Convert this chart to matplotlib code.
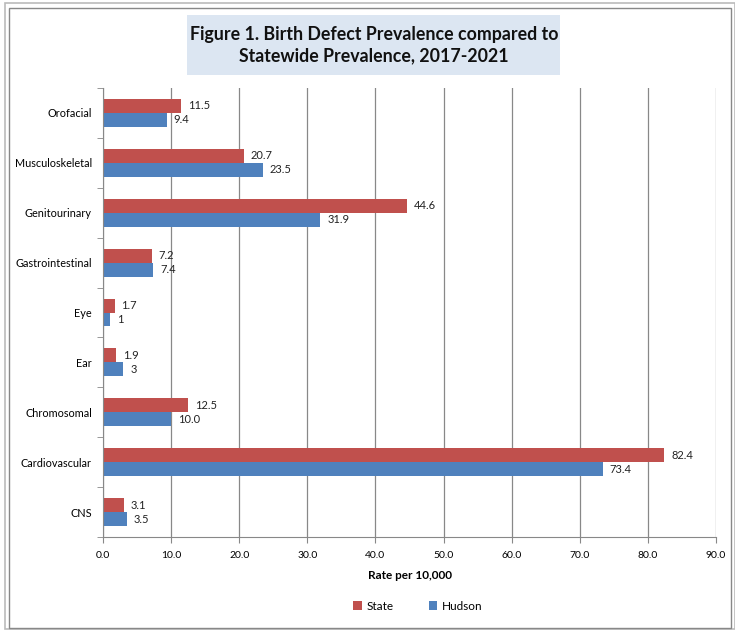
import matplotlib
matplotlib.use("Agg")
import matplotlib.pyplot as plt
import numpy as np
from matplotlib.patches import Rectangle

categories = ["Orofacial", "Musculoskeletal", "Genitourinary", "Gastrointestinal",
              "Eye", "Ear", "Chromosomal", "Cardiovascular", "CNS"]
state = [11.5, 20.7, 44.6, 7.2, 1.7, 1.9, 12.5, 82.4, 3.1]
hudson = [9.4, 23.5, 31.9, 7.4, 1.0, 3.0, 10.0, 73.4, 3.5]
state_labels = ["11.5", "20.7", "44.6", "7.2", "1.7", "1.9", "12.5", "82.4", "3.1"]
hudson_labels = ["9.4", "23.5", "31.9", "7.4", "1", "3", "10.0", "73.4", "3.5"]
xticks = [0, 10, 20, 30, 40, 50, 60, 70, 80, 90]

plt.rcParams['font.family'] = ['Lato', 'DejaVu Sans']

W, H = 735, 631
fig = plt.figure(figsize=(W / 100, H / 100), dpi=100)

def fx(px):
    return px / W

def fy(py):
    return 1 - py / H

# borders
fig.patches.append(Rectangle((fx(5), fy(629)), fx(735) - fx(5), fy(3) - fy(629),
                             transform=fig.transFigure, fill=False, edgecolor="#BBBBBB", lw=1.2))
fig.patches.append(Rectangle((fx(9), fy(628)), fx(731) - fx(9), fy(8) - fy(628),
                             transform=fig.transFigure, fill=False, edgecolor="#888888", lw=1.0))

left, right, top, bottom = 103, 716, 88, 537
ax = fig.add_axes([fx(left), fy(bottom), fx(right) - fx(left), fy(top) - fy(bottom)])

n = len(categories)
y = np.arange(n)[::-1]  # Orofacial at top
bh = 0.28
red = "#C0504D"
blue = "#4F81BD"
ax.barh(y + bh / 2, state, height=bh, color=red, label="State")
ax.barh(y - bh / 2, hudson, height=bh, color=blue, label="Hudson")

for yi, v, s in zip(y, state, state_labels):
    ax.text(v + 1.0, yi + bh / 2, s, va="center", ha="left", fontsize=8, color="#222222")
for yi, v, s in zip(y, hudson, hudson_labels):
    ax.text(v + 1.0, yi - bh / 2, s, va="center", ha="left", fontsize=8, color="#222222")

ax.set_xlim(0, 90)
ax.set_ylim(-0.5, n - 0.5)
ax.set_xticks(xticks)
ax.set_xticklabels([f"{t:.1f}" for t in xticks], fontsize=7.5)
ax.set_yticks(y)
ax.set_yticklabels(categories, fontsize=7.8)
ax.tick_params(axis="y", length=0, pad=8)
ax.set_yticks(np.arange(-0.5, n, 1.0), minor=True)
ax.tick_params(axis="y", which="minor", length=4, color="#888888", direction="out")
ax.tick_params(axis="x", length=4, color="#888888", direction="out", pad=6)
ax.xaxis.grid(True, color="#888888", lw=0.9)
ax.set_axisbelow(True)
for side in ["top", "right"]:
    ax.spines[side].set_visible(False)
ax.spines["left"].set_color("#888888")
ax.spines["bottom"].set_color("#888888")
ax.set_xlabel("Rate per 10,000", fontsize=8.5, fontweight="bold", labelpad=7)

# title box
fig.patches.append(Rectangle((fx(187), fy(75)), fx(560) - fx(187), fy(15) - fy(75),
                             transform=fig.transFigure, facecolor="#DCE6F2", edgecolor="none"))
fig.text(fx(374), fy(45), "Figure 1. Birth Defect Prevalence compared to\nStatewide Prevalence, 2017-2021",
         ha="center", va="center", fontsize=12.8, fontweight="bold", linespacing=1.35, color="#111111")

fig.legend(loc="center", bbox_to_anchor=(fx(418), fy(606)), ncol=2, frameon=False,
           fontsize=8.5, handlelength=0.7, handleheight=0.7, columnspacing=3.0, handletextpad=0.4)

fig.savefig("out.png", dpi=100)
